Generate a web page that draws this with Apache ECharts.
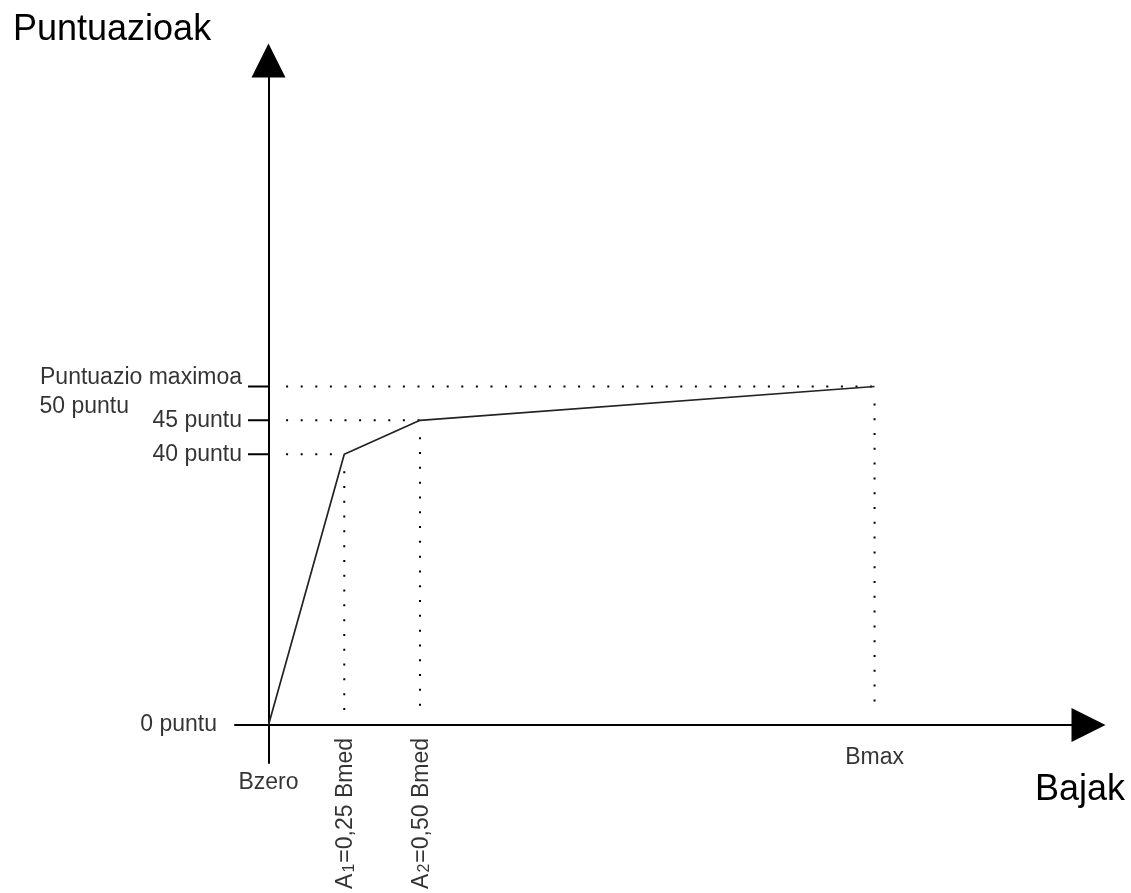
<!DOCTYPE html>
<html><head><meta charset="utf-8">
<script src="https://cdn.jsdelivr.net/npm/echarts@6/dist/echarts.min.js"></script>
<style>html,body{margin:0;padding:0;background:#fff}#c{width:1131px;height:893px}</style>
</head><body><div id="c"></div>
<script>
// ---- data ----
const xNames = ['Bzero', 'A1=0,25 Bmed', 'A2=0,50 Bmed', 'Bmax'];
const xValues = [0, 0.25, 0.5, 2.0];
const scoreValues = [0, 40, 45, 50];
const yTickValues = [40, 45, 50];
const yTickLabels = ['40 puntu', '45 puntu', 'Puntuazio maximoa'];
const zeroLabel = '0 puntu';
const maxSubLabel = '50 puntu';
const yTitle = 'Puntuazioak';
const xTitle = 'Bajak';

// ---- layout (axis domain chosen so the grid matches the reference) ----
const X_MIN = -0.1106, X_MAX = 2.706, Y_MIN = -5.61, Y_MAX = 98.15;
const TICK_X = -0.0677;        // start of short y ticks
const GUIDE_X0 = 0.058;        // where horizontal dotted guides start
const GUIDE_YEND = 1.9;        // where vertical dotted guides end
const GUIDE_GAP = 2.5;         // gap below point for vertical guides

const FONT = '"Liberation Sans", Arial, sans-serif';
const TXT = '#000';

const chart = echarts.init(document.getElementById('c'), null, {renderer: 'canvas'});

const mainData = xValues.map((x, i) => [x, scoreValues[i]]);

const series = [];
// main polyline
series.push({
  type: 'line', data: mainData, symbol: 'none', z: 5, silent: true,
  lineStyle: {color: '#222', width: 1.7}
});
// dotted guides
const dotStyle = {color: '#000', width: 2, type: [2, 12.6], cap: 'butt'};
for (let i = 1; i < xValues.length; i++) {
  series.push({type: 'line', symbol: 'none', silent: true, z: 3, lineStyle: dotStyle,
    data: [[GUIDE_X0, scoreValues[i]], [xValues[i], scoreValues[i]]]});
  series.push({type: 'line', symbol: 'none', silent: true, z: 3, lineStyle: {...dotStyle, type: [2, 12.8]},
    data: [[xValues[i], scoreValues[i] - GUIDE_GAP], [xValues[i], GUIDE_YEND]]});
}
// y ticks
yTickValues.forEach(v => {
  series.push({type: 'line', symbol: 'none', silent: true, z: 4,
    lineStyle: {color: '#000', width: 2}, data: [[TICK_X, v], [0, v]]});
});

const baseLabel = {show: true, color: TXT, fontFamily: FONT, fontSize: 23};

// y labels
series.push({
  type: 'scatter', symbolSize: 0, silent: true, z: 10,
  data: yTickValues.map((v, i) => ({
    value: [TICK_X, v],
    label: {...baseLabel, position: 'left', distance: 6, formatter: yTickLabels[i],
      offset: v === 50 ? [0, -9] : [0, 0]}
  })).concat([
    {value: [TICK_X, 50], label: {...baseLabel, position: 'left', distance: 6, formatter: maxSubLabel, offset: [-113, 20]}},
    {value: [X_MIN, 0], label: {...baseLabel, position: 'left', distance: 18, formatter: zeroLabel}}
  ])
});

// x labels
function richName(n) {
  const m = n.match(/^A(\d)(.*)$/);
  return m ? '{n|A}{s|' + m[1] + '}{n|' + m[2] + '}' : n;
}
const rich = {
  n: {fontSize: 23, fontFamily: FONT, color: TXT, verticalAlign: 'bottom', lineHeight: 26},
  s: {fontSize: 16, fontFamily: FONT, color: TXT, verticalAlign: 'bottom', lineHeight: 26, padding: [0, 1, 0, 1]}
};
series.push({
  type: 'scatter', symbolSize: 0, silent: true, z: 10,
  data: xValues.map((x, i) => {
    const name = xNames[i];
    let label;
    if (i === 0) label = {...baseLabel, position: 'bottom', distance: 46, formatter: name};
    else if (i === xValues.length - 1) label = {...baseLabel, position: 'bottom', distance: 21, formatter: name};
    else label = {...baseLabel, position: 'bottom', distance: 13, rotate: 90, align: 'right', verticalAlign: 'middle',
      formatter: richName(name), rich: rich};
    return {value: [x, 0], label: label};
  })
});

const arrow = {symbol: ['none', 'triangle'], symbolSize: [34, 34]};

chart.setOption({
  animation: false,
  backgroundColor: '#fff',
  grid: {left: 235, right: 42.5, top: 60.5, bottom: 130, containLabel: false, outerBoundsMode: 'none'},
  xAxis: {
    type: 'value', min: X_MIN, max: X_MAX,
    axisLine: {show: true, onZero: true, lineStyle: {color: '#000', width: 2}, ...arrow},
    axisTick: {show: false}, axisLabel: {show: false}, splitLine: {show: false}
  },
  yAxis: {
    type: 'value', min: Y_MIN, max: Y_MAX,
    axisLine: {show: true, onZero: true, lineStyle: {color: '#000', width: 2}, ...arrow},
    axisTick: {show: false}, axisLabel: {show: false}, splitLine: {show: false}
  },
  graphic: [
    {type: 'text', left: 13, top: 12, style: {text: yTitle, font: '36px ' + FONT, fill: TXT}},
    {type: 'text', left: 1035, top: 772, style: {text: xTitle, font: '36px ' + FONT, fill: TXT}}
  ],
  series: series
});
</script>
</body></html>
